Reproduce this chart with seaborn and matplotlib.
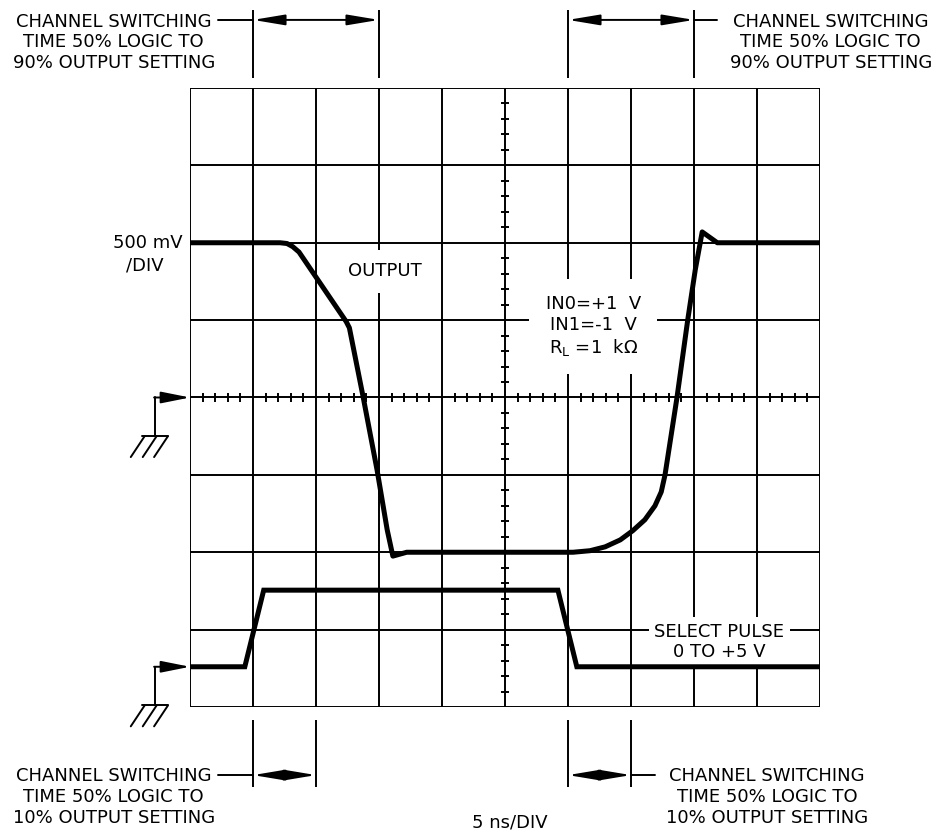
#-------------------------------------------
# Channel switching time scope trace:
# output vs select pulse, 5 ns/DIV
#-------------------------------------------

import pandas as pd
import numpy as np
import matplotlib.pyplot as plt
import seaborn as sns

# Data (in scope divisions: x 0..10, y 0..8)

out_t = [0.0, 1.43, 1.54, 1.63, 1.73, 2.43, 2.48, 2.53, 2.75, 2.97, 3.13,
         3.22, 3.44, 6.08, 6.35, 6.59, 6.83, 7.03, 7.22, 7.38, 7.48, 7.54,
         7.73, 7.90, 8.02, 8.13, 8.37, 10.0]
out_v = [6.0, 6.0, 5.99, 5.95, 5.88, 5.04, 4.98, 4.90, 4.0, 3.06, 2.29,
         1.95, 2.0, 2.0, 2.02, 2.07, 2.16, 2.28, 2.42, 2.60, 2.78, 3.0,
         4.0, 5.0, 5.65, 6.14, 6.0, 6.0]

sel_t = [0.0, 0.87, 1.17, 5.84, 6.14, 10.0]
sel_v = [0.52, 0.52, 1.51, 1.51, 0.52, 0.52]

trace_out = pd.DataFrame({'t': out_t, 'v': out_v})
trace_sel = pd.DataFrame({'t': sel_t, 'v': sel_v})

#-----------------------SETUP-----------------------------------

sns.set_style('white')
plt.rcParams['font.family'] = ['DejaVu Sans']
plt.rcParams['mathtext.fontset'] = 'dejavusans'
plt.rcParams['text.color'] = 'black'

fig = plt.figure(figsize=(9.36, 8.3), dpi=100)
ax = fig.add_axes([190/936, 123/830, 630/936, 619/830])
ax.set_xlim(0, 10)
ax.set_ylim(0, 8)
ax.axis('off')

lw_grid = 1.4
fs = 13

#-----------------------GRID------------------------------------

ax.vlines(range(11), 0, 8, color='black', lw=lw_grid, zorder=1)
ax.hlines(range(9), 0, 10, color='black', lw=lw_grid, zorder=1)

# minor ticks on centre lines
minor_x = [x for x in np.arange(0.2, 10, 0.2) if abs(x - round(x)) > 0.05]
minor_y = [y for y in np.arange(0.2, 8, 0.2) if abs(y - round(y)) > 0.05]
ax.vlines(minor_x, 4 - 0.055, 4 + 0.055, color='black', lw=lw_grid, zorder=1)
ax.hlines(minor_y, 5 - 0.065, 5 + 0.065, color='black', lw=lw_grid, zorder=1)

#-----------------------TRACES----------------------------------

sns.lineplot(data=trace_out, x='t', y='v', sort=False, estimator=None,
             color='black', lw=3.6, ax=ax, zorder=5,
             solid_joinstyle='round', solid_capstyle='butt', clip_on=False)
sns.lineplot(data=trace_sel, x='t', y='v', sort=False, estimator=None,
             color='black', lw=3.6, ax=ax, zorder=5,
             solid_joinstyle='miter', solid_capstyle='butt', clip_on=False)
ax.axis('off')

#-----------------------LABELS INSIDE---------------------------

ax.text(3.1, 5.63, 'OUTPUT', fontsize=fs, ha='center', va='center',
        color='black', bbox=dict(facecolor='white', edgecolor='none', pad=9),
        zorder=3)
ax.text(6.4, 4.92, 'IN0=+1  V\nIN1=-1  V\n' + r'R$_\mathrm{L}$ =1  k$\Omega$',
        fontsize=fs, ha='center', va='center', linespacing=1.2, color='black',
        bbox=dict(facecolor='white', edgecolor='none', pad=12), zorder=3)
ax.text(8.4, 0.84, 'SELECT PULSE\n0 TO +5 V', fontsize=fs, ha='center',
        va='center', linespacing=1.2, color='black',
        bbox=dict(facecolor='white', edgecolor='none', pad=4), zorder=3)

ax.text(-0.67, 6.0, '500 mV', fontsize=fs, ha='center', va='center', color='black')
ax.text(-0.71, 5.71, '/DIV', fontsize=fs, ha='center', va='center', color='black')
ax.text(5.08, -1.49, '5 ns/DIV', fontsize=fs, ha='center', va='center', color='black')

#-----------------------GROUND SYMBOLS--------------------------

for y0 in [4.0, 0.52]:
    ybar = y0 - 0.5
    ax.plot([-0.56, -0.56], [y0, ybar], color='black', lw=lw_grid, clip_on=False)
    ax.annotate('', xy=(0, y0), xytext=(-0.57, y0),
                arrowprops=dict(arrowstyle='-|>,head_length=1.1,head_width=0.22',
                                color='black', lw=lw_grid, mutation_scale=16,
                                shrinkA=0, shrinkB=0), annotation_clip=False)
    ax.plot([-0.76, -0.35], [ybar, ybar], color='black', lw=lw_grid, clip_on=False)
    for xs in [-0.72, -0.53, -0.35]:
        ax.plot([xs, xs - 0.22], [ybar, ybar - 0.27], color='black',
                lw=lw_grid, clip_on=False)

#-----------------------SWITCHING TIME ANNOTATIONS--------------

note_90 = 'CHANNEL SWITCHING\nTIME 50% LOGIC TO\n90% OUTPUT SETTING'
note_10 = 'CHANNEL SWITCHING\nTIME 50% LOGIC TO\n10% OUTPUT SETTING'

dims = [
    # (x_a, x_b, y_arrow, y_mark_lo, y_mark_hi, leader, text_x, text_y, text)
    (1, 3, 8.88, 8.13, 9.01, (0.44, 1.0), -1.21, 8.59, note_90),
    (6, 8, 8.88, 8.13, 9.01, (8.0, 8.37), 10.17, 8.59, note_90),
    (1, 2, -0.88, -1.03, -0.17, (0.44, 1.0), -1.21, -1.16, note_10),
    (6, 7, -0.88, -1.03, -0.17, (7.0, 7.38), 9.16, -1.16, note_10),
]

for xa, xb, ya, ylo, yhi, lead, tx, ty, txt in dims:
    ax.vlines([xa, xb], ylo, yhi, color='black', lw=lw_grid, clip_on=False)
    ax.annotate('', xy=(xa, ya), xytext=(xb, ya),
                arrowprops=dict(arrowstyle='<|-|>,head_length=1.2,head_width=0.2',
                                color='black', lw=lw_grid, mutation_scale=16,
                                shrinkA=0, shrinkB=0), annotation_clip=False)
    ax.plot(list(lead), [ya, ya], color='black', lw=lw_grid, clip_on=False)
    ax.text(tx, ty, txt, fontsize=fs, ha='center', va='center', color='black',
            linespacing=1.2, multialignment='center')

plt.savefig('out.png', dpi=100)
